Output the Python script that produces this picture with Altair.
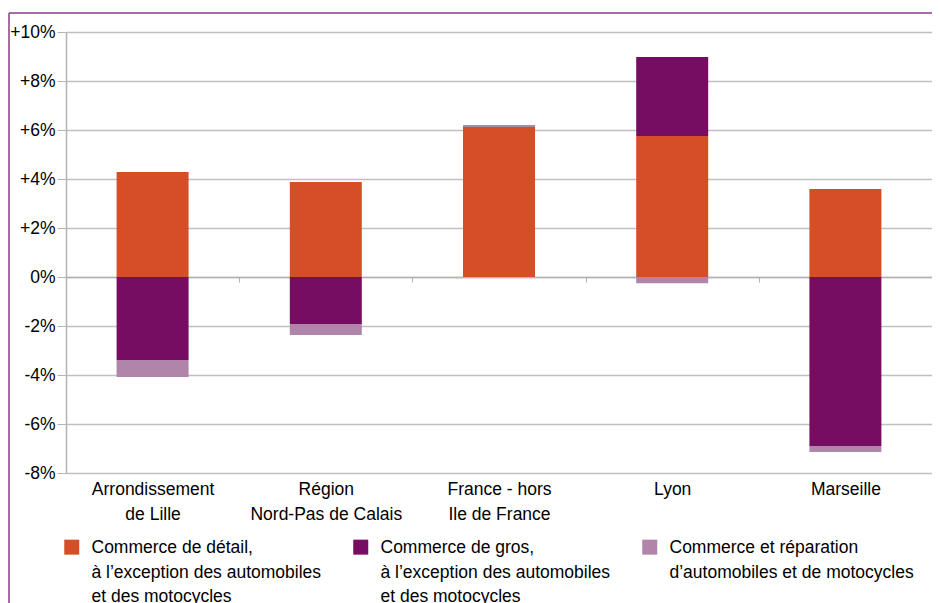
import altair as alt
import pandas as pd

categories = ["Arrondissement|de Lille", "Région|Nord-Pas de Calais",
              "France - hors|Ile de France", "Lyon", "Marseille"]
series = ["Commerce de détail,|à l’exception des automobiles|et des motocycles",
          "Commerce de gros,|à l’exception des automobiles|et des motocycles",
          "Commerce et réparation|d’automobiles et de motocycles| "]
detail = [4.29, 3.88, 6.12, 5.76, 3.59]
gros = [-3.39, -1.92, 0.0, 3.22, -6.90]
reparation = [-0.69, -0.45, 0.08, -0.25, -0.24]
colors = ["#D64E27", "#770D62", "#B184AA"]
y_ticks = [-8, -6, -4, -2, 0, 2, 4, 6, 8, 10]

rows = []
for si, vals in enumerate([detail, gros, reparation]):
    for ci, v in enumerate(vals):
        rows.append({"cat": categories[ci], "serie": series[si], "idx": si, "val": v})
df = pd.DataFrame(rows)

FONT = "Liberation Sans"
FS = 17.5
H = 441
W = 866
zero_off = -H * 8 / 18

bars = alt.Chart(df).mark_bar(size=72).encode(
    x=alt.X("cat:N", sort=categories, title=None,
            scale=alt.Scale(paddingInner=0, paddingOuter=0),
            axis=alt.Axis(orient="bottom", offset=zero_off, domainColor="#B3B3B3",
                          domainWidth=1.5, tickColor="#B3B3B3", tickSize=5,
                          tickBand="extent", labelAngle=0, labelFontSize=FS,
                          labelColor="black", labelFont=FONT,
                          labelPadding=-zero_off + 2, labelLineHeight=25,
                          labelExpr="split(datum.label, '|')", grid=False)),
    y=alt.Y("val:Q", stack="zero", title=None,
            scale=alt.Scale(domain=[-8, 10], nice=False, zero=False),
            axis=alt.Axis(values=y_ticks, labelFontSize=FS, labelColor="black",
                          labelFont=FONT, gridColor="#C0C0C0", gridWidth=1.5,
                          domainColor="#B3B3B3", domainWidth=1.5,
                          tickColor="#B3B3B3", tickSize=9, labelPadding=2,
                          labelExpr="datum.value > 0 ? '+' + datum.value + '%' : datum.value + '%'")),
    color=alt.Color("serie:N", sort=series,
                    scale=alt.Scale(domain=series, range=colors),
                    legend=alt.Legend(title=None, orient="none", legendX=-3, legendY=498,
                                      direction="horizontal", columns=3,
                                      symbolType="M-1,0.07H1V2.07H-1Z", symbolSize=225,
                                      symbolStrokeWidth=0, symbolOpacity=1,
                                      labelFontSize=FS, labelFont=FONT, labelColor="black",
                                      labelOffset=11, labelLimit=400, labelBaseline="top",
                                      columnPadding=30, gridAlign="each",
                                      labelExpr="split(datum.label, '|')")),
    order=alt.Order("idx:Q"),
)

frame_data = alt.Data(values=[{"a": 1}])
frame_top = alt.Chart(frame_data).mark_rule(color="#8E3A86", strokeWidth=1.5).encode(
    x=alt.value(-57), x2=alt.value(W + 10), y=alt.value(-19))
frame_left = alt.Chart(frame_data).mark_rule(color="#8E3A86", strokeWidth=1.5).encode(
    x=alt.value(-57), y=alt.value(-19), y2=alt.value(H + 140))

chart = alt.layer(bars, frame_top, frame_left).properties(
    width=W, height=H,
    autosize=alt.AutoSizeParams(type="none"),
    padding={"left": 58, "top": 24, "right": 0, "bottom": 130},
).configure_view(stroke=None).configure(
    font=FONT, style={"guide-label": {"lineHeight": 24.5}})

chart.save("out.html", embed_options={"renderer": "svg", "actions": False})
